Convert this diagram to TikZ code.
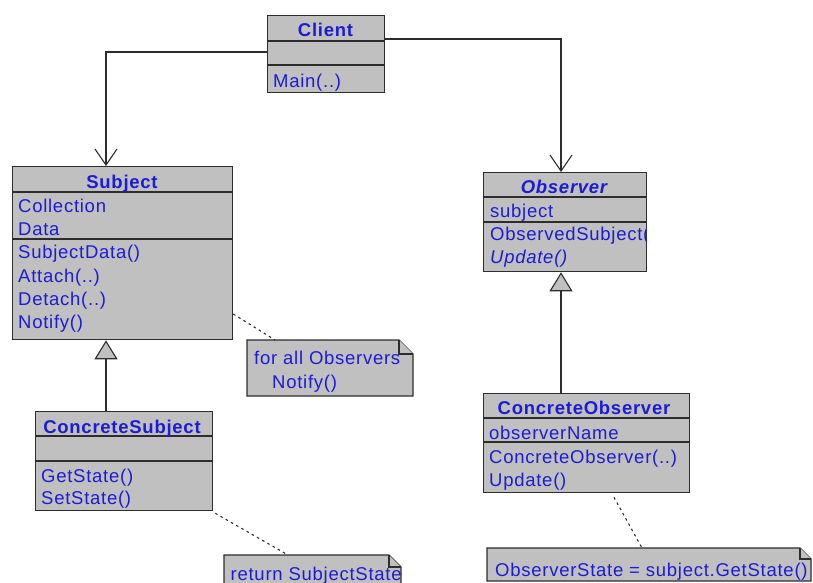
\documentclass[tikz,border=0pt]{standalone}
\usepackage{fontspec}
\setmainfont{Liberation Sans}[LetterSpace=4]
\usetikzlibrary{arrows.meta,calc}
\definecolor{boxgray}{RGB}{192,192,192}
\definecolor{umlblue}{RGB}{28,28,215}
\definecolor{linegray}{RGB}{45,45,45}

\begin{document}
\begin{tikzpicture}[x=1pt,y=-1pt,
  classbox/.style={draw=linegray, fill=boxgray, line width=1.3pt, inner sep=0pt, anchor=north west},
  divider/.style={draw=linegray, line width=1.1pt},
  member/.style={inner sep=0pt, anchor=base west, text=umlblue, font=\fontsize{18.5}{22}\selectfont},
  ctitle/.style={inner sep=0pt, anchor=base, text=umlblue, font=\fontsize{18.5}{22}\selectfont\bfseries},
  assoc/.style={draw=linegray, line width=1.1pt, -{Straight Barb[length=16pt,width=22pt,line width=1.1pt]}},
  gen/.style={draw=linegray, line width=1.1pt, -{Triangle[length=19pt,width=23pt,fill=boxgray,line width=1.1pt]}},
  anchorline/.style={draw=linegray, line width=1.1pt, dash pattern=on 2.5pt off 3.5pt},
  notebox/.style={draw=linegray, fill=boxgray, line width=1.1pt, line join=miter},
]
\clip (0,0) rectangle (813,583);
\fill[white] (0,0) rectangle (813,583);

% ---------- class boxes ----------
\node[classbox, minimum width=117pt, minimum height=77pt] (client) at (267,15) {};
\draw[divider] (client.west |- 0,41) -- (client.east |- 0,41);
\draw[divider] (client.west |- 0,65) -- (client.east |- 0,65);
\node[ctitle] (client-t) at (325.5,37) {Client};
\node[member] (client-m1) at (273,88) {Main(..)};

\node[classbox, minimum width=220pt, minimum height=173pt] (subj) at (12,166) {};
\draw[divider] (subj.west |- 0,192) -- (subj.east |- 0,192);
\draw[divider] (subj.west |- 0,239) -- (subj.east |- 0,239);
\node[ctitle] (subj-t) at (122,188) {Subject};
\node[member] (subj-a1) at (18,212) {Collection};
\node[member] (subj-a2) at (18,235) {Data};
\node[member] (subj-m1) at (18,258) {SubjectData()};
\node[member] (subj-m2) at (18,282) {Attach(..)};
\node[member] (subj-m3) at (18,305) {Detach(..)};
\node[member] (subj-m4) at (18,328) {Notify()};

\node[classbox, minimum width=163pt, minimum height=99pt] (obs) at (483,172) {};
\draw[divider] (obs.west |- 0,197) -- (obs.east |- 0,197);
\draw[divider] (obs.west |- 0,222) -- (obs.east |- 0,222);
\node[ctitle, font=\fontsize{18.5}{22}\selectfont\bfseries\itshape] (obs-t) at (564,193) {Observer};
\node[member] (obs-a1) at (490,217) {subject};
\begin{scope}
  % long operation names are cut off at the box border
  \clip (obs.west |- 0,223) rectangle ($(obs.south east)+(-1,0)$);
  \node[member] (obs-m1) at (490,240) {ObservedSubject()};
\end{scope}
\node[member, font=\fontsize{18.5}{22}\selectfont\itshape] (obs-m2) at (490,263) {Update()};

\node[classbox, minimum width=177pt, minimum height=99pt] (csubj) at (35,411) {};
\draw[divider] (csubj.west |- 0,436) -- (csubj.east |- 0,436);
\draw[divider] (csubj.west |- 0,461) -- (csubj.east |- 0,461);
\node[ctitle] (csubj-t) at (122,433) {ConcreteSubject};
\node[member] (csubj-m1) at (41,482) {GetState()};
\node[member] (csubj-m2) at (41,504) {SetState()};

\node[classbox, minimum width=206pt, minimum height=99pt] (cobs) at (483,393) {};
\draw[divider] (cobs.west |- 0,418) -- (cobs.east |- 0,418);
\draw[divider] (cobs.west |- 0,442) -- (cobs.east |- 0,442);
\node[ctitle] (cobs-t) at (584,414) {ConcreteObserver};
\node[member] (cobs-a1) at (489,439) {observerName};
\node[member] (cobs-m1) at (489,463) {ConcreteObserver(..)};
\node[member] (cobs-m2) at (489,486) {Update()};

% ---------- notes ----------
\draw[notebox] (247,340) -- (399,340) -- (413,354) -- (413,396) -- (247,396) -- cycle;
\draw[notebox] (399,340) -- (399,354) -- (413,354);
\coordinate (note1top) at (275,340);
\node[member] (note1-l1) at (254,364) {for all Observers};
\node[member] (note1-l2) at (272,388) {Notify()};

\draw[notebox] (224,555) -- (389,555) -- (401,567) -- (401,600) -- (224,600) -- cycle;
\draw[notebox] (389,555) -- (389,567) -- (401,567);
\coordinate (note2top) at (288,555);
\begin{scope}
  \clip (225,556) rectangle (400,600);
  \node[member] (note2-l1) at (230.5,580) {return SubjectState};
\end{scope}

\draw[notebox] (487,548) -- (800,548) -- (811,559) -- (811,581) -- (487,581) -- cycle;
\draw[notebox] (800,548) -- (800,559) -- (811,559);
\coordinate (note3top) at (642,548);
\node[member] (note3-l1) at (495,576) {ObserverState = subject.GetState()};

% ---------- connectors ----------
\draw[assoc] (client.west |- 0,52) -| (subj.north -| 106,0);
\draw[assoc] (client.east |- 0,39) -| (obs.north -| 561,0);
\draw[gen] (csubj.north -| 106,0) -- (subj.south -| 106,0);
\draw[gen] (cobs.north -| 561,0) -- (obs.south -| 561,0);
\draw[anchorline] (subj.east |- 0,314) -- (note1top);
\draw[anchorline] (csubj.south east) ++(2,2) -- (note2top);
\draw[anchorline] (cobs.south -| 614,0) ++(0,4) -- (note3top);
\end{tikzpicture}
\end{document}
